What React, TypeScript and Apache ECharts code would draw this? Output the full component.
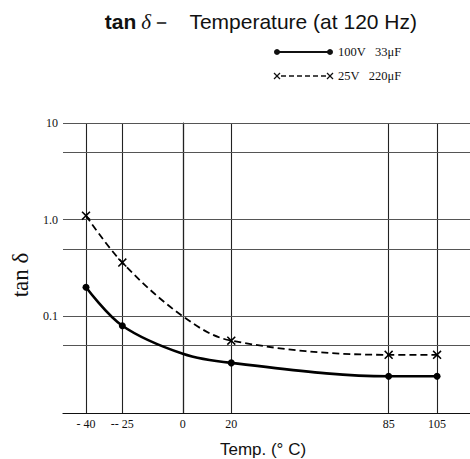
import React, { useEffect, useRef } from "react";
import * as echarts from "echarts";

const temps = [-40, -25, 0, 20, 85, 105];
const tan100V = [0.2, 0.08, 0.041, 0.033, 0.024, 0.024];
const tan25V = [1.1, 0.36, 0.1, 0.056, 0.04, 0.04];
const markerShown = [true, true, false, true, true, true];
const xTickLabels = ["- 40", "-- 25", "0", "20", "85", "105"];
const yGridValues = [10, 5, 1, 0.5, 0.1, 0.05];
const yTickLabels: Record<string, string> = { "1": "10", "0": "1.0", "-1": "0.1" };
const seriesNames = ["100V   33μF", "25V   220μF"];

const SERIF = "'Liberation Serif', 'DejaVu Serif', serif";
const SANS = "'Liberation Sans', Arial, sans-serif";
const X_SYMBOL = "path://M0,1.2 L1.2,0 L5,3.8 L8.8,0 L10,1.2 L6.2,5 L10,8.8 L8.8,10 L5,6.2 L1.2,10 L0,8.8 L3.8,5 Z";

export default function App() {
  const ref = useRef<HTMLDivElement>(null);
  useEffect(() => {
    if (!ref.current) return;
    const chart = echarts.init(ref.current, null, { renderer: "svg" });
    const mk = (vals: number[], sym: string, size: number) =>
      temps.map((t, i) => ({
        value: [t, vals[i]],
        symbol: markerShown[i] ? sym : "none",
        symbolSize: size,
      }));
    chart.setOption({
      animation: false,
      backgroundColor: "#fff",
      title: [
        {
          text: "{b|tan} {d|δ}{n|－   Temperature (at 120 Hz)}",
          left: 256,
          top: 6,
          textAlign: "center",
          textStyle: {
            fontWeight: "normal",
            rich: {
              b: { fontFamily: SANS, fontWeight: "bold", fontSize: 21, color: "#111" },
              d: { fontFamily: SERIF, fontStyle: "italic", fontWeight: "normal", fontSize: 21, color: "#111" },
              n: { fontFamily: SANS, fontWeight: "normal", fontSize: 21, color: "#111" },
            },
          },
        },
        {
          text: "Temp. (° C)",
          left: 258,
          top: 436,
          textAlign: "center",
          textStyle: { fontFamily: SANS, fontSize: 17, fontWeight: "normal", color: "#111" },
        },
      ],
      grid: { left: 63, right: 0, top: 123, bottom: 46 },
      xAxis: {
        type: "value",
        min: -49.5,
        max: 118.6,
        axisLine: { show: true, lineStyle: { color: "#111", width: 1.2 } },
        axisTick: { show: false },
        splitLine: { show: false },
        axisLabel: {
          customValues: temps,
          formatter: (v: number) => xTickLabels[temps.indexOf(Math.round(v))] ?? "",
          fontFamily: SERIF,
          fontSize: 12,
          color: "#111",
          margin: 5,
        },
      },
      yAxis: {
        type: "log",
        logBase: 10,
        min: 0.01,
        max: 10,
        name: "tan δ",
        nameLocation: "middle",
        nameGap: 30,
        nameTextStyle: { fontFamily: SERIF, fontSize: 23, color: "#111", padding: [0, 14, 0, 0] },
        axisLine: { show: true, lineStyle: { color: "#111", width: 1.2 } },
        axisTick: { show: false },
        splitLine: { show: false },
        axisLabel: {
          formatter: (v: number) => yTickLabels[String(Math.round(Math.log10(v)))] ?? "",
          fontFamily: SERIF,
          fontSize: 12,
          color: "#111",
          margin: 5,
        },
      },
      graphic: [
        { type: "line", shape: { x1: 277, y1: 52, x2: 330, y2: 52 }, style: { stroke: "#111", lineWidth: 2 } },
        { type: "circle", shape: { cx: 277, cy: 52, r: 3 }, style: { fill: "#111" } },
        { type: "circle", shape: { cx: 330, cy: 52, r: 3 }, style: { fill: "#111" } },
        { type: "text", x: 338, y: 52, style: { text: seriesNames[0], fontFamily: SERIF, fontSize: 12.5, fill: "#111", verticalAlign: "middle" } },
        { type: "line", shape: { x1: 281, y1: 76, x2: 326, y2: 76 }, style: { stroke: "#111", lineWidth: 1.5, lineDash: [5, 3] } },
        { type: "line", shape: { x1: 274, y1: 73, x2: 280, y2: 79 }, style: { stroke: "#111", lineWidth: 1.3 } },
        { type: "line", shape: { x1: 274, y1: 79, x2: 280, y2: 73 }, style: { stroke: "#111", lineWidth: 1.3 } },
        { type: "line", shape: { x1: 327, y1: 73, x2: 333, y2: 79 }, style: { stroke: "#111", lineWidth: 1.3 } },
        { type: "line", shape: { x1: 327, y1: 79, x2: 333, y2: 73 }, style: { stroke: "#111", lineWidth: 1.3 } },
        { type: "text", x: 338, y: 76, style: { text: seriesNames[1], fontFamily: SERIF, fontSize: 12.5, fill: "#111", verticalAlign: "middle" } },
      ],
      series: [
        {
          name: "grid",
          type: "line",
          data: [],
          silent: true,
          markLine: {
            silent: true,
            symbol: "none",
            label: { show: false },
            data: [
              ...temps.map((t) => ({ xAxis: t, lineStyle: { color: "#222", width: 1.1, type: "solid" } })),
              ...yGridValues.map((v) => ({ yAxis: v, lineStyle: { color: "#555", width: 1, type: "solid" } })),
            ],
          },
        },
        {
          name: seriesNames[0],
          type: "line",
          smooth: 0.35,
          data: mk(tan100V, "circle", 7),
          lineStyle: { color: "#000", width: 2.6 },
          itemStyle: { color: "#000" },
          z: 5,
        },
        {
          name: seriesNames[1],
          type: "line",
          smooth: 0.35,
          data: mk(tan25V, X_SYMBOL, 9),
          lineStyle: { color: "#000", width: 1.8, type: [7, 4] },
          itemStyle: { color: "#000" },
          z: 5,
        },
      ],
    });
    return () => chart.dispose();
  }, []);
  return <div ref={ref} style={{ position: "fixed", left: 0, top: 0, width: 470, height: 459 }} />;
}
